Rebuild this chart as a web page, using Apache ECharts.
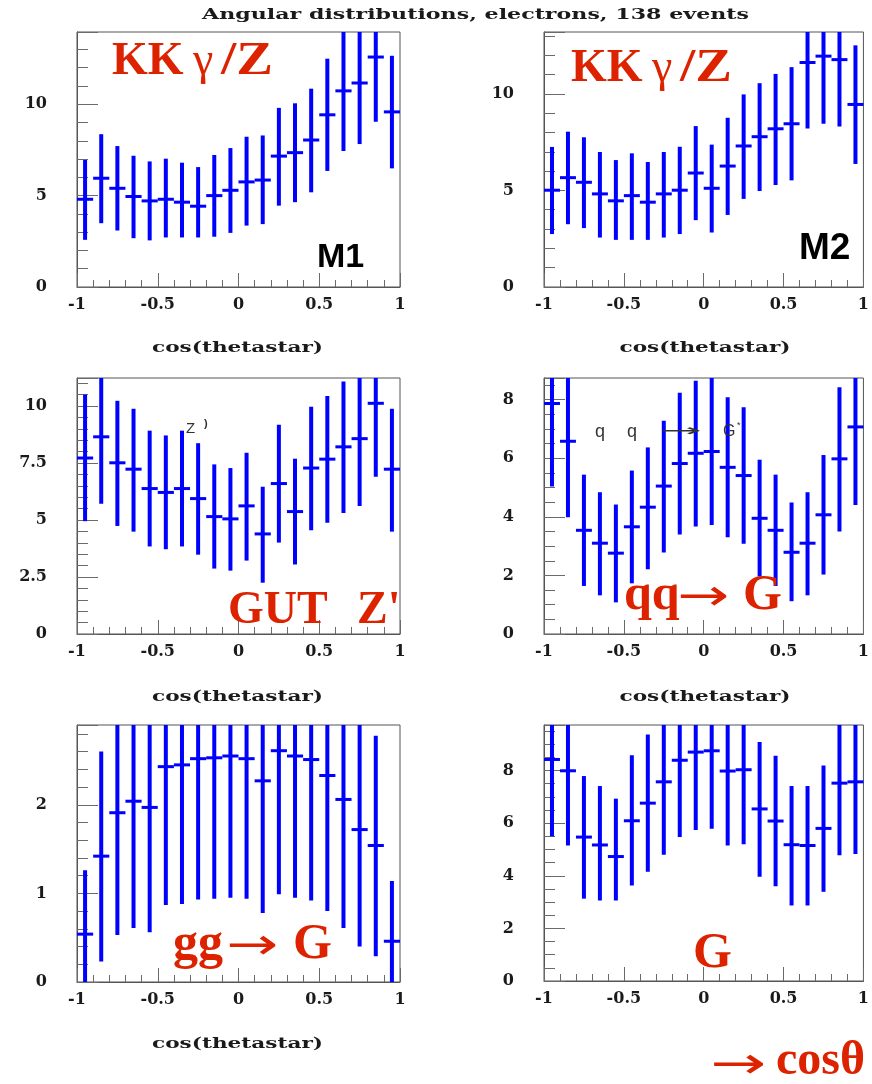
<!DOCTYPE html>
<html>
<head>
<meta charset="utf-8">
<title>Angular distributions, electrons, 138 events</title>
<script src="https://cdn.jsdelivr.net/npm/echarts@6/dist/echarts.min.js"></script>
<style>
  html, body { margin: 0; padding: 0; background: #ffffff; }
  #main { width: 872px; height: 1084px; }
</style>
</head>
<body>
<div id="main"></div>
<script>
// ---- data: cos(theta*) histograms, 20 bins, bin contents with error-bar ends ----
const binCenters = [-0.95, -0.85, -0.75, -0.65, -0.55, -0.45, -0.35, -0.25, -0.15, -0.05,
                     0.05,  0.15,  0.25,  0.35,  0.45,  0.55,  0.65,  0.75,  0.85,  0.95];
const binWidth = 0.1;

// M1, KK gamma/Z
const valsM1 = [4.80, 5.95, 5.40, 4.95, 4.71, 4.80, 4.64, 4.42, 5.00, 5.29, 5.75, 5.85, 7.16, 7.35, 8.04, 9.42, 10.73, 11.16, 12.58, 9.58];
const loM1   = [2.58, 3.49, 3.09, 2.67, 2.55, 2.71, 2.71, 2.71, 2.75, 2.96, 3.36, 3.44, 4.45, 4.64, 5.18, 6.35, 7.44, 7.82, 9.04, 6.49];
const hiM1   = [6.95, 8.36, 7.71, 7.18, 6.87, 7.02, 6.80, 6.56, 7.22, 7.60, 8.22, 8.29, 9.80, 10.05, 10.85, 12.49, 14.02, 14.50, 16.12, 12.65];

// M2, KK gamma/Z
const valsM2 = [5.01, 5.66, 5.42, 4.82, 4.46, 4.73, 4.39, 4.82, 5.01, 5.90, 5.11, 6.26, 7.30, 7.78, 8.19, 8.45, 11.62, 11.95, 11.77, 9.45];
const loM2   = [2.74, 3.25, 3.05, 2.56, 2.44, 2.44, 2.44, 2.56, 2.74, 3.46, 2.82, 3.73, 4.56, 4.97, 5.28, 5.52, 8.21, 8.45, 8.31, 6.37];
const hiM2   = [7.25, 8.04, 7.75, 6.99, 6.57, 6.92, 6.47, 6.99, 7.26, 8.33, 7.37, 8.76, 9.97, 10.55, 11.03, 11.38, 15.03, 15.45, 15.23, 12.51];

// GUT Z'
const valsZp = [7.72, 8.65, 7.51, 7.23, 6.38, 6.21, 6.38, 5.94, 5.15, 5.05, 5.62, 4.39, 6.60, 5.37, 7.28, 7.67, 8.21, 8.57, 10.12, 7.23];
const loZp   = [4.95, 5.71, 4.74, 4.49, 3.84, 3.72, 3.84, 3.48, 2.87, 2.78, 3.22, 2.25, 4.01, 3.05, 4.55, 4.88, 5.31, 5.62, 6.90, 4.49];
const hiZp   = [10.50, 11.59, 10.23, 9.88, 8.92, 8.71, 8.92, 8.37, 7.44, 7.28, 7.95, 6.46, 9.18, 7.69, 9.97, 10.44, 11.08, 11.52, 13.34, 9.88];

// q qbar -> G
const valsQQ = [7.87, 6.58, 3.54, 3.10, 2.76, 3.66, 4.33, 5.05, 5.82, 6.17, 6.23, 5.69, 5.41, 3.95, 3.54, 2.79, 3.10, 4.07, 5.98, 7.07];
const loQQ   = [5.04, 3.99, 1.64, 1.32, 1.08, 1.73, 2.21, 2.78, 3.40, 3.67, 3.72, 3.30, 3.08, 1.96, 1.64, 1.12, 1.32, 2.03, 3.50, 4.40];
const hiQQ   = [10.70, 9.17, 5.44, 4.84, 4.42, 5.58, 6.37, 7.28, 8.24, 8.65, 8.80, 8.08, 7.74, 5.95, 5.44, 4.49, 4.84, 6.11, 8.42, 9.74];

// g g -> G
const valsGG = [0.54, 1.42, 1.91, 2.04, 1.97, 2.43, 2.45, 2.52, 2.53, 2.55, 2.52, 2.27, 2.61, 2.55, 2.51, 2.33, 2.06, 1.72, 1.54, 0.46];
const loGG   = [-0.19, 0.23, 0.53, 0.61, 0.56, 0.87, 0.88, 0.93, 0.94, 0.95, 0.94, 0.78, 0.99, 0.95, 0.92, 0.80, 0.61, 0.40, 0.29, -0.22];
const hiGG   = [1.26, 2.60, 3.28, 3.47, 3.38, 3.99, 4.01, 4.11, 4.12, 4.15, 4.10, 3.76, 4.23, 4.15, 4.10, 3.86, 3.51, 3.04, 2.78, 1.14];

// G (combined)
const valsG = [8.42, 7.99, 5.47, 5.17, 4.73, 6.09, 6.76, 7.57, 8.39, 8.70, 8.75, 7.98, 8.03, 6.54, 6.08, 5.18, 5.15, 5.80, 7.52, 7.57];
const loG   = [5.50, 5.15, 3.13, 3.06, 3.06, 3.63, 4.15, 4.80, 5.47, 5.74, 5.79, 5.15, 5.20, 3.96, 3.60, 2.87, 2.87, 3.39, 4.78, 4.83];
const hiG   = [11.34, 10.83, 7.79, 7.41, 6.93, 8.58, 9.37, 10.34, 11.31, 11.66, 11.71, 10.81, 10.86, 9.08, 8.56, 7.41, 7.41, 8.19, 10.26, 10.31];

// y-axis ranges and major steps of the six pads
const yMaxes     = [13.95, 13.2, 11.23, 8.74, 2.9, 9.73];
const yMajor     = [5, 5, 2.5, 2, 1, 2];
const yMinorSplit = [5, 5, 5, 4, 5, 4];

const titleText = 'Angular distributions, electrons, 138 events';
const xTitle = 'cos(thetastar)';

// ---- layout ----
const pads = [
  { vals: valsM1, lo: loM1, hi: hiM1, box: { left: 77,  top: 32,  width: 323, height: 255 } },
  { vals: valsM2, lo: loM2, hi: hiM2, box: { left: 544, top: 32,  width: 324, height: 255 } },
  { vals: valsZp, lo: loZp, hi: hiZp, box: { left: 77,  top: 378, width: 323, height: 256 } },
  { vals: valsQQ, lo: loQQ, hi: hiQQ, box: { left: 544, top: 378, width: 324, height: 256 } },
  { vals: valsGG, lo: loGG, hi: hiGG, box: { left: 77,  top: 725, width: 323, height: 257 } },
  { vals: valsG,  lo: loG,  hi: hiG,  box: { left: 544, top: 725, width: 324, height: 256 } }
];

const BLUE = '#0000ff';
const RED = '#dd2200';
const FRAME = '#555555';
const TICK = '#6a6a6a';
const axisFont = "'DejaVu Serif', serif";

function renderErrorBar(params, api) {
  const x = api.value(0), y = api.value(1), lo = api.value(2), hi = api.value(3);
  const c = api.coord([x, y]);
  const pLo = api.coord([x, lo]);
  const pHi = api.coord([x, hi]);
  const w = api.size([binWidth, 0])[0];
  return {
    type: 'group',
    children: [
      { type: 'line', shape: { x1: c[0], y1: pHi[1], x2: c[0], y2: pLo[1] },
        style: { stroke: BLUE, lineWidth: 4 } },
      { type: 'line', shape: { x1: c[0] - w / 2, y1: c[1], x2: c[0] + w / 2, y2: c[1] },
        style: { stroke: BLUE, lineWidth: 3 } }
    ]
  };
}

const grids = [], xAxes = [], yAxes = [], series = [];
pads.forEach((p, i) => {
  grids.push(Object.assign({ show: true, borderColor: FRAME, borderWidth: 1, backgroundColor: 'transparent' }, p.box));
  xAxes.push({
    gridIndex: i, type: 'value', min: -1, max: 1, interval: 0.5,
    axisLine: { show: true, onZero: false, lineStyle: { color: FRAME, width: 1 } },
    axisTick: { show: true, inside: true, length: 14, lineStyle: { color: TICK } },
    minorTick: { show: true, splitNumber: 5, length: 7, lineStyle: { color: TICK } },
    splitLine: { show: false },
    axisLabel: { margin: 10, color: '#1a1a1a', fontFamily: axisFont, fontWeight: 'bold', fontSize: 16 }
  });
  yAxes.push({
    gridIndex: i, type: 'value', min: 0, max: yMaxes[i], interval: yMajor[i],
    axisLine: { show: true, onZero: false, lineStyle: { color: FRAME, width: 1 } },
    axisTick: { show: true, inside: true, length: 21, lineStyle: { color: TICK } },
    minorTick: { show: true, splitNumber: yMinorSplit[i], length: 11, lineStyle: { color: TICK } },
    splitLine: { show: false },
    axisLabel: { margin: 30, showMaxLabel: false, color: '#1a1a1a', fontFamily: axisFont, fontWeight: 'bold', fontSize: 16 }
  });
  series.push({
    type: 'custom', xAxisIndex: i, yAxisIndex: i, clip: true,
    renderItem: renderErrorBar,
    encode: { x: 0, y: 1 },
    data: binCenters.map((x, k) => [x, p.vals[k], p.lo[k], p.hi[k]])
  });
});

// ---- text overlays ----
const measureCtx = document.createElement('canvas').getContext('2d');
function widthOf(text, font) { measureCtx.font = font; return measureCtx.measureText(text).width; }

function txt(text, x, y, font, fill, opts) {
  opts = opts || {};
  const el = {
    type: 'text', x: x, y: y, z: 100, silent: true,
    style: {
      text: text, font: font, fill: fill,
      align: opts.align || 'left', textAlign: opts.align || 'left',
      verticalAlign: 'middle', textVerticalAlign: 'middle'
    }
  };
  if (opts.width) el.scaleX = opts.width / widthOf(text, font);
  return el;
}

const titleFont = "bold 15px 'DejaVu Serif'";
const xTitleFont = "bold 14px 'DejaVu Serif'";
const bigSerif = (px) => `bold ${px}px 'Liberation Serif'`;
const plainSerif = (px) => `${px}px 'Liberation Serif'`;
const arrowFont = "44px 'DejaVu Sans'";

const graphics = [
  txt(titleText, 475.5, 15, titleFont, '#1a1a1a', { align: 'center', width: 547 }),
  txt(xTitle, 237.5, 348, xTitleFont, '#1a1a1a', { align: 'center', width: 171 }),
  txt(xTitle, 705, 348, xTitleFont, '#1a1a1a', { align: 'center', width: 171 }),
  txt(xTitle, 237.5, 697, xTitleFont, '#1a1a1a', { align: 'center', width: 171 }),
  txt(xTitle, 705, 697, xTitleFont, '#1a1a1a', { align: 'center', width: 171 }),
  txt(xTitle, 237.5, 1044, xTitleFont, '#1a1a1a', { align: 'center', width: 171 }),

  // KK gamma/Z (M1)
  txt('KK', 112, 62, bigSerif(46), RED),
  txt('γ', 193, 62, plainSerif(46), RED),
  txt('/Z', 221, 62, bigSerif(46), RED, { width: 52 }),
  // KK gamma/Z (M2)
  txt('KK', 571, 69, bigSerif(46), RED),
  txt('γ', 652, 69, plainSerif(46), RED),
  txt('/Z', 680, 69, bigSerif(46), RED, { width: 52 }),
  // model tags
  txt('M1', 317, 257.5, "bold 34px 'Liberation Sans'", '#000000'),
  txt('M2', 799, 249, "bold 37px 'Liberation Sans'", '#000000'),

  // GUT Z'
  txt('GUT', 228, 611, bigSerif(46), RED),
  txt("Z'", 357, 611, bigSerif(46), RED),
  txt('Z', 186, 429, "15px 'Liberation Sans'", '#333333'),
  txt(')', 204, 424, "bold 11px 'Liberation Sans'", '#333333'),

  // q q -> G*
  txt('q', 595, 432, "18px 'Liberation Sans'", '#333333'),
  txt('q', 627, 432, "18px 'Liberation Sans'", '#333333'),
  txt('→', 660, 432, "16px 'DejaVu Sans'", '#333333', { width: 42 }),
  txt('G', 723, 432, "16px 'Liberation Sans'", '#333333'),
  txt('*', 737, 426, "9px 'Liberation Sans'", '#333333'),

  // qq -> G
  txt('qq', 624, 596, bigSerif(50), RED),
  txt('→', 677, 599, arrowFont, RED, { width: 52 }),
  txt('G', 743, 596, bigSerif(50), RED),
  // gg -> G
  txt('gg', 173, 945, bigSerif(50), RED),
  txt('→', 226, 948, arrowFont, RED, { width: 52 }),
  txt('G', 293, 945, bigSerif(50), RED),
  // G
  txt('G', 693, 954, bigSerif(50), RED),
  // -> cos theta
  txt('→', 710, 1067, arrowFont, RED, { width: 56 }),
  txt('cosθ', 776, 1062, bigSerif(48), RED)
];

const chart = echarts.init(document.getElementById('main'), null, { renderer: 'canvas' });
chart.setOption({
  animation: false,
  backgroundColor: '#ffffff',
  grid: grids,
  xAxis: xAxes,
  yAxis: yAxes,
  series: series,
  graphic: graphics
});
</script>
</body>
</html>
